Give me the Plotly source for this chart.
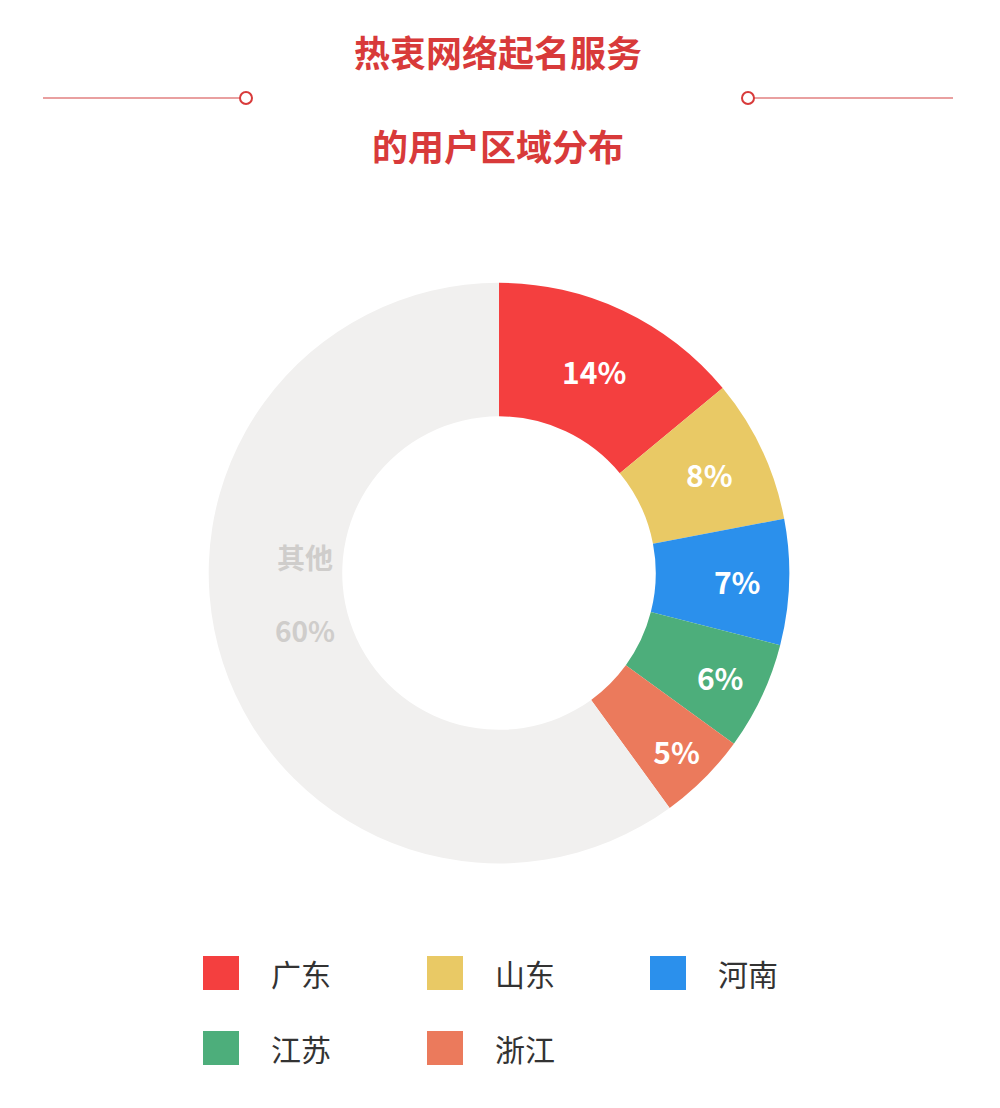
import plotly.graph_objects as go

regions = ["广东", "山东", "河南", "江苏", "浙江", "其他"]
shares = [14, 8, 7, 6, 5, 60]
colors = ["#F43F3F", "#E9C965", "#2B90EC", "#4DAE7B", "#EB7A5C", "#F1F0EF"]
slice_text = ["<b>14%</b>", "<b>8%</b>", "<b>7%</b>", "<b>6%</b>", "<b>5%</b>", ""]

fig = go.Figure()

fig.add_trace(go.Pie(
    labels=regions, values=shares, text=slice_text,
    texttemplate="%{text}", textposition="inside",
    insidetextorientation="horizontal",
    textfont=dict(size=30, color="white", family="Noto Sans CJK SC"),
    marker=dict(colors=colors, line=dict(width=0)),
    hole=0.54, sort=False, direction="clockwise", rotation=0,
    domain=dict(x=[0.197, 0.785], y=[0.228, 0.752]),
    showlegend=False,
))

fig.add_annotation(x=0.265, y=1 - 585 / 1108, xref="paper", yref="paper",
                   text="<b>其他</b><br><br><b>60%</b>", showarrow=False, yanchor="middle",
                   font=dict(size=28, color="#CFCDCB", family="Noto Sans CJK SC"))

fig.add_annotation(x=0.49, y=1 - 90 / 1108, xref="paper", yref="paper",
                   text="<b>热衷网络起名服务</b><br><br><b>的用户区域分布</b>", showarrow=False,
                   yanchor="middle",
                   font=dict(size=36, color="#D83A3A", family="Noto Sans CJK SC"))

line_col = "#E9A0A0"
ty = 1 - 90 / 1108
fig.add_shape(type="line", xref="paper", yref="paper", x0=0.035, x1=0.232,
              y0=ty, y1=ty, line=dict(color=line_col, width=2))
fig.add_shape(type="line", xref="paper", yref="paper", x0=0.746, x1=0.945,
              y0=ty, y1=ty, line=dict(color=line_col, width=2))
for cx in [0.238, 0.740]:
    fig.add_shape(type="circle", xref="paper", yref="paper",
                  x0=cx - 0.006, x1=cx + 0.006, y0=ty - 0.0055, y1=ty + 0.0055,
                  line=dict(color="#D83A3A", width=2), fillcolor="white")

# custom legend (regions excluding 其他)
col_x = [213, 437, 660]
row_y = [965, 1040]
for i, (name, c) in enumerate(zip(regions[:5], colors[:5])):
    x = col_x[i % 3]
    y = row_y[i // 3]
    fig.add_shape(type="rect", xref="paper", yref="paper",
                  x0=(x - 18) / 1000, x1=(x + 18) / 1000,
                  y0=1 - (y + 17) / 1108, y1=1 - (y - 17) / 1108,
                  fillcolor=c, line=dict(width=0))
    fig.add_annotation(x=(x + 48) / 1000, y=1 - y / 1108, xref="paper", yref="paper",
                       text=name, showarrow=False, xanchor="left", yanchor="middle",
                       font=dict(size=30, color="#333333", family="Noto Sans CJK SC"))

fig.update_layout(
    width=1000, height=1108,
    margin=dict(l=0, r=0, t=0, b=0),
    paper_bgcolor="white", plot_bgcolor="white",
    showlegend=False,
)

fig.write_html("out.html")
